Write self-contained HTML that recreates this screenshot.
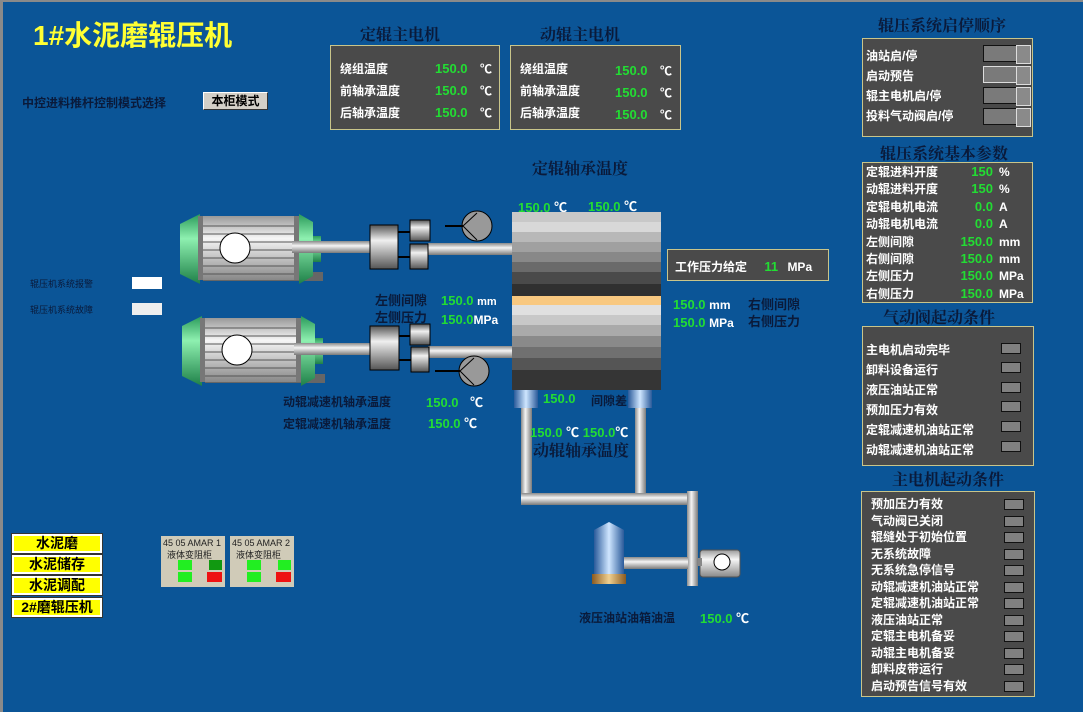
<!DOCTYPE html>
<html><head><meta charset="utf-8">
<style>
*{margin:0;padding:0;box-sizing:border-box}
body{width:1083px;height:712px;overflow:hidden;background:#0b5597;position:relative;font-family:"Liberation Sans","Noto Sans CJK SC",sans-serif;}
#frame{position:absolute;left:0;top:0;width:1083px;height:712px;border-left:3px solid #8a8a8a;border-top:2px solid #8a8a8a;}
.a{position:absolute;white-space:nowrap}
.dk{color:#0a1a3a;font-weight:bold}
.t{color:#0a1a3a;font-family:"Liberation Serif","Noto Serif CJK SC",serif;font-size:16px;font-weight:bold}
.g{color:#22dd33;font-weight:bold;font-size:13px}
.w{color:#fff;font-weight:bold;font-size:12px}
.box{position:absolute;background:#4a4a4a;border:1px solid #c9c58a}
.ind{position:absolute;width:20px;height:11px;background:#808080;border:1px solid #111}
.sl{position:absolute;width:48px;height:17px;background:#7a7a7a;border:1px solid #111}
.sl:after{content:"";position:absolute;right:-1px;top:-1px;width:13px;height:17px;background:#8a8a8a;border:1px solid #ddd}
.nav{position:absolute;left:12px;width:90px;height:19px;background:#ffff00;border:2px solid #fff;outline:1px solid #333;text-align:center;font-weight:bold;font-size:14px;line-height:15px;color:#000}
</style></head><body>
<div id="frame"></div>
<div class="a" style="left:33px;top:14px;font-size:28px;font-weight:bold;color:#ffff33">1#水泥磨辊压机</div>
<div class="a dk" style="left:22px;top:94px;font-size:12px">中控进料推杆控制模式选择</div>
<div class="a" style="left:203px;top:92px;width:65px;height:18px;background:#d4d0c8;border:1px solid #fff;border-right-color:#333;border-bottom-color:#333;font-size:12px;font-weight:bold;text-align:center;line-height:16px">本柜模式</div>

<div class="a t" style="left:360px;top:22px">定辊主电机</div>
<div class="a t" style="left:540px;top:22px">动辊主电机</div>
<div class="box" style="left:330px;top:45px;width:170px;height:85px"></div>
<div class="box" style="left:510px;top:45px;width:171px;height:85px"></div>
<div class="a w" style="left:340px;top:58px;line-height:22px">绕组温度<br>前轴承温度<br>后轴承温度</div>
<div class="a g" style="left:435px;top:58px;line-height:22px">150.0<br>150.0<br>150.0</div>
<div class="a w" style="left:480px;top:58px;line-height:22px">℃<br>℃<br>℃</div>
<div class="a w" style="left:520px;top:58px;line-height:22px">绕组温度<br>前轴承温度<br>后轴承温度</div>
<div class="a g" style="left:615px;top:60px;line-height:22px">150.0<br>150.0<br>150.0</div>
<div class="a w" style="left:660px;top:60px;line-height:22px">℃<br>℃<br>℃</div>

<div class="a t" style="left:532px;top:156px">定辊轴承温度</div>
<div class="a g" style="left:518px;top:197px">150.0 <span style="color:#fff">℃</span></div>
<div class="a g" style="left:588px;top:196px">150.0 <span style="color:#fff">℃</span></div>

<svg class="a" style="left:0;top:0" width="1083" height="712">
<defs>
<linearGradient id="shaft" x1="0" y1="0" x2="0" y2="1"><stop offset="0" stop-color="#8a8a8a"/><stop offset=".4" stop-color="#f4f4f4"/><stop offset="1" stop-color="#7a7a7a"/></linearGradient>
<linearGradient id="vpipe" x1="0" y1="0" x2="1" y2="0"><stop offset="0" stop-color="#8a8a8a"/><stop offset=".4" stop-color="#f4f4f4"/><stop offset="1" stop-color="#7a7a7a"/></linearGradient>
<linearGradient id="green" x1="0" y1="0" x2="0" y2="1"><stop offset="0" stop-color="#2a9a5a"/><stop offset=".35" stop-color="#8ef0b0"/><stop offset="1" stop-color="#1e8048"/></linearGradient>
<linearGradient id="body" x1="0" y1="0" x2="0" y2="1"><stop offset="0" stop-color="#999"/><stop offset=".35" stop-color="#f6f6f6"/><stop offset="1" stop-color="#888"/></linearGradient>
<linearGradient id="box" x1="0" y1="0" x2="0" y2="1"><stop offset="0" stop-color="#555"/><stop offset=".35" stop-color="#f0f0f0"/><stop offset="1" stop-color="#555"/></linearGradient>
<linearGradient id="blue" x1="0" y1="0" x2="1" y2="0"><stop offset="0" stop-color="#2a5a9a"/><stop offset=".5" stop-color="#cfe6ff"/><stop offset="1" stop-color="#2a5a9a"/></linearGradient>
<linearGradient id="brz" x1="0" y1="0" x2="1" y2="0"><stop offset="0" stop-color="#8a5a20"/><stop offset=".5" stop-color="#f0d090"/><stop offset="1" stop-color="#8a5a20"/></linearGradient>
<g id="motor">
<rect x="28" y="58" width="120" height="9" fill="#666"/>
<path d="M5 10 L25 0 L25 70 L5 60 Z" fill="url(#green)"/>
<rect x="23" y="2" width="100" height="64" fill="url(#body)"/>
<g stroke="#555" stroke-width="1"><line x1="23" y1="12" x2="123" y2="12"/><line x1="23" y1="20" x2="123" y2="20"/><line x1="23" y1="28" x2="123" y2="28"/><line x1="23" y1="36" x2="123" y2="36"/><line x1="23" y1="44" x2="123" y2="44"/><line x1="23" y1="52" x2="123" y2="52"/><line x1="23" y1="60" x2="123" y2="60"/></g>
<rect x="23" y="2" width="5" height="64" fill="#777"/><rect x="119" y="2" width="5" height="64" fill="#777"/>
<path d="M124 0 L138 8 L138 62 L124 70 Z" fill="url(#green)"/>
<rect x="138" y="22" width="8" height="26" fill="url(#green)"/>
<circle cx="60" cy="34" r="15" fill="#fff" stroke="#000"/>
</g>
</defs>
<use href="#motor" x="175" y="214"/>
<use href="#motor" x="177" y="316"/>
<rect x="292" y="241" width="80" height="12" fill="url(#shaft)"/>
<rect x="428" y="243" width="86" height="12" fill="url(#shaft)"/>
<rect x="294" y="343" width="80" height="12" fill="url(#shaft)"/>
<rect x="428" y="346" width="86" height="12" fill="url(#shaft)"/>
<rect x="370" y="225" width="28" height="44" fill="url(#box)" stroke="#000"/>
<rect x="410" y="220" width="20" height="21" fill="url(#box)" stroke="#000"/>
<rect x="410" y="244" width="18" height="25" fill="url(#box)" stroke="#000"/>
<line x1="398" y1="232" x2="410" y2="232" stroke="#000" stroke-width="2"/><line x1="398" y1="257" x2="410" y2="257" stroke="#000" stroke-width="2"/>
<rect x="370" y="326" width="29" height="44" fill="url(#box)" stroke="#000"/>
<rect x="410" y="324" width="20" height="21" fill="url(#box)" stroke="#000"/>
<rect x="411" y="347" width="18" height="25" fill="url(#box)" stroke="#000"/>
<line x1="399" y1="336" x2="410" y2="336" stroke="#000" stroke-width="2"/><line x1="399" y1="360" x2="411" y2="360" stroke="#000" stroke-width="2"/>
<circle cx="477" cy="226" r="15" fill="#999" stroke="#000"/><path d="M463 226 L477 213 M463 226 L477 240" stroke="#000"/>
<line x1="445" y1="226" x2="463" y2="226" stroke="#000" stroke-width="2"/>
<circle cx="474" cy="371" r="15" fill="#999" stroke="#000"/><path d="M460 371 L474 358 M460 371 L474 385" stroke="#000"/>
<line x1="435" y1="371" x2="460" y2="371" stroke="#000" stroke-width="2"/>
<g>
<rect x="512" y="212" width="149" height="10" fill="#c8c8c8"/>
<rect x="512" y="222" width="149" height="10" fill="#d8d8d8"/>
<rect x="512" y="232" width="149" height="10" fill="#b8b8b8"/>
<rect x="512" y="242" width="149" height="10" fill="#a0a0a0"/>
<rect x="512" y="252" width="149" height="10" fill="#888"/>
<rect x="512" y="262" width="149" height="10" fill="#6a6a6a"/>
<rect x="512" y="272" width="149" height="12" fill="#4a4a4a"/>
<rect x="512" y="284" width="149" height="12" fill="#303030"/>
<rect x="512" y="296" width="149" height="9" fill="#f8c880"/>
<rect x="512" y="305" width="149" height="10" fill="#e0e0e0"/>
<rect x="512" y="315" width="149" height="10" fill="#c8c8c8"/>
<rect x="512" y="325" width="149" height="11" fill="#aaa"/>
<rect x="512" y="336" width="149" height="11" fill="#8a8a8a"/>
<rect x="512" y="347" width="149" height="11" fill="#707070"/>
<rect x="512" y="358" width="149" height="12" fill="#555"/>
<rect x="512" y="370" width="149" height="20" fill="#353535"/>
</g>
<rect x="514" y="390" width="24" height="18" fill="url(#blue)"/>
<rect x="628" y="390" width="24" height="18" fill="url(#blue)"/>
<rect x="521" y="408" width="11" height="95" fill="url(#vpipe)"/>
<rect x="635" y="408" width="11" height="95" fill="url(#vpipe)"/>
<rect x="521" y="493" width="168" height="12" fill="url(#shaft)"/>
<rect x="687" y="491" width="11" height="95" fill="url(#vpipe)"/>
<rect x="622" y="557" width="66" height="12" fill="url(#shaft)"/>
<path d="M594 530 L609 522 L624 530 L624 574 L594 574 Z" fill="url(#blue)"/>
<rect x="592" y="574" width="34" height="10" fill="url(#brz)"/>
<rect x="700" y="550" width="40" height="27" rx="3" fill="url(#body)" stroke="#555"/>
<circle cx="722" cy="562" r="8" fill="#fff" stroke="#000"/>
<rect x="698" y="558" width="4" height="8" fill="#888"/>
</svg>

<div class="a dk" style="left:375px;top:292px;font-size:13px;line-height:17px">左侧间隙<br>左侧压力</div>
<div class="a g" style="left:441px;top:292px;line-height:17px">150.0 <span style="color:#fff;font-size:11px">mm</span><br>150.0<span style="color:#fff;font-size:12px">MPa</span></div>
<div class="a g" style="left:673px;top:296px;line-height:17px">150.0 <span style="color:#fff;font-size:12px">mm</span><br>150.0 <span style="color:#fff;font-size:12px">MPa</span></div>
<div class="a dk" style="left:748px;top:296px;font-size:13px;line-height:17px">右侧间隙<br>右侧压力</div>
<div class="box" style="left:667px;top:249px;width:162px;height:32px;border-color:#c9c58a"></div>
<div class="a w" style="left:675px;top:258px;font-size:12px">工作压力给定 <span class="g" style="margin-left:14px">11</span> <span style="margin-left:6px">MPa</span></div>

<div class="a dk" style="left:283px;top:393px;font-size:12px">动辊减速机轴承温度</div>
<div class="a dk" style="left:283px;top:415px;font-size:12px">定辊减速机轴承温度</div>
<div class="a g" style="left:426px;top:392px">150.0 <span style="color:#fff;margin-left:8px">℃</span></div>
<div class="a g" style="left:428px;top:413px">150.0 <span style="color:#fff">℃</span></div>
<div class="a g" style="left:543px;top:391px">150.0</div>
<div class="a dk" style="left:591px;top:392px;font-size:12px">间隙差</div>
<div class="a g" style="left:530px;top:422px">150.0 <span style="color:#fff">℃</span> 150.0<span style="color:#fff">℃</span></div>
<div class="a t" style="left:533px;top:438px">动辊轴承温度</div>
<div class="a dk" style="left:579px;top:609px;font-size:12px">液压油站油箱油温</div>
<div class="a g" style="left:700px;top:608px">150.0 <span style="color:#fff">℃</span></div>

<div class="a" style="left:30px;top:277px;font-size:9px;color:#0a1a3a">辊压机系统报警</div>
<div class="a" style="left:30px;top:303px;font-size:9px;color:#0a1a3a">辊压机系统故障</div>
<div class="a" style="left:132px;top:277px;width:30px;height:12px;background:#fff"></div>
<div class="a" style="left:132px;top:303px;width:30px;height:12px;background:#eee"></div>

<div class="nav" style="top:534px">水泥磨</div>
<div class="nav" style="top:555px">水泥储存</div>
<div class="nav" style="top:576px">水泥调配</div>
<div class="nav" style="top:598px">2#磨辊压机</div>

<div class="a" style="left:161px;top:536px;width:64px;height:51px;background:#d0cbb8;font-size:9px;color:#222">
<div style="padding:2px 2px 0;font-size:9px">45 05 AMAR 1</div><div style="padding-left:6px">液体变阻柜</div>
<div style="position:absolute;left:17px;top:24px;width:14px;height:10px;background:#22ee22"></div>
<div style="position:absolute;left:48px;top:24px;width:13px;height:10px;background:#119911"></div>
<div style="position:absolute;left:17px;top:36px;width:14px;height:10px;background:#22ee22"></div>
<div style="position:absolute;left:46px;top:36px;width:15px;height:10px;background:#ee1111"></div></div>
<div class="a" style="left:230px;top:536px;width:64px;height:51px;background:#d0cbb8;font-size:9px;color:#222">
<div style="padding:2px 2px 0;font-size:9px">45 05 AMAR 2</div><div style="padding-left:6px">液体变阻柜</div>
<div style="position:absolute;left:17px;top:24px;width:14px;height:10px;background:#22ee22"></div>
<div style="position:absolute;left:48px;top:24px;width:13px;height:10px;background:#22ee22"></div>
<div style="position:absolute;left:17px;top:36px;width:14px;height:10px;background:#22ee22"></div>
<div style="position:absolute;left:46px;top:36px;width:15px;height:10px;background:#ee1111"></div></div>

<div class="a t" style="left:878px;top:13px">辊压系统启停顺序</div>
<div class="box" style="left:862px;top:38px;width:171px;height:99px"></div>
<div class="a w" style="left:866px;top:46px;line-height:20px">油站启/停<br>启动预告<br>辊主电机启/停<br>投料气动阀启/停</div>
<div class="sl" style="left:983px;top:45px"></div>
<div class="sl" style="left:983px;top:66px;border-color:#ddd"></div>
<div class="sl" style="left:983px;top:87px"></div>
<div class="sl" style="left:983px;top:108px"></div>

<div class="a t" style="left:880px;top:141px">辊压系统基本参数</div>
<div class="box" style="left:862px;top:162px;width:171px;height:141px"></div>
<div class="a w" style="left:866px;top:164px;line-height:17.4px">定辊进料开度<br>动辊进料开度<br>定辊电机电流<br>动辊电机电流<br>左侧间隙<br>右侧间隙<br>左侧压力<br>右侧压力</div>
<div class="a g" style="left:955px;top:163px;line-height:17.4px;text-align:right;width:38px">150<br>150<br>0.0<br>0.0<br>150.0<br>150.0<br>150.0<br>150.0</div>
<div class="a w" style="left:999px;top:164px;line-height:17.4px;font-size:12px">%<br>%<br>A<br>A<br>mm<br>mm<br>MPa<br>MPa</div>

<div class="a t" style="left:883px;top:305px">气动阀起动条件</div>
<div class="box" style="left:862px;top:326px;width:172px;height:140px"></div>
<div class="a w" style="left:866px;top:340px;line-height:20px">主电机启动完毕<br>卸料设备运行<br>液压油站正常<br>预加压力有效<br>定辊减速机油站正常<br>动辊减速机油站正常</div>
<div class="ind" style="left:1001px;top:343px"></div>
<div class="ind" style="left:1001px;top:362px"></div>
<div class="ind" style="left:1001px;top:382px"></div>
<div class="ind" style="left:1001px;top:401px"></div>
<div class="ind" style="left:1001px;top:421px"></div>
<div class="ind" style="left:1001px;top:441px"></div>

<div class="a t" style="left:892px;top:467px">主电机起动条件</div>
<div class="box" style="left:861px;top:491px;width:174px;height:206px"></div>
<div class="a w" style="left:871px;top:496px;line-height:16.5px">预加压力有效<br>气动阀已关闭<br>辊缝处于初始位置<br>无系统故障<br>无系统急停信号<br>动辊减速机油站正常<br>定辊减速机油站正常<br>液压油站正常<br>定辊主电机备妥<br>动辊主电机备妥<br>卸料皮带运行<br>启动预告信号有效</div>
<div class="ind" style="left:1004px;top:499px"></div>
<div class="ind" style="left:1004px;top:516px"></div>
<div class="ind" style="left:1004px;top:532px"></div>
<div class="ind" style="left:1004px;top:549px"></div>
<div class="ind" style="left:1004px;top:565px"></div>
<div class="ind" style="left:1004px;top:582px"></div>
<div class="ind" style="left:1004px;top:598px"></div>
<div class="ind" style="left:1004px;top:615px"></div>
<div class="ind" style="left:1004px;top:631px"></div>
<div class="ind" style="left:1004px;top:648px"></div>
<div class="ind" style="left:1004px;top:664px"></div>
<div class="ind" style="left:1004px;top:681px"></div>
</body></html>
